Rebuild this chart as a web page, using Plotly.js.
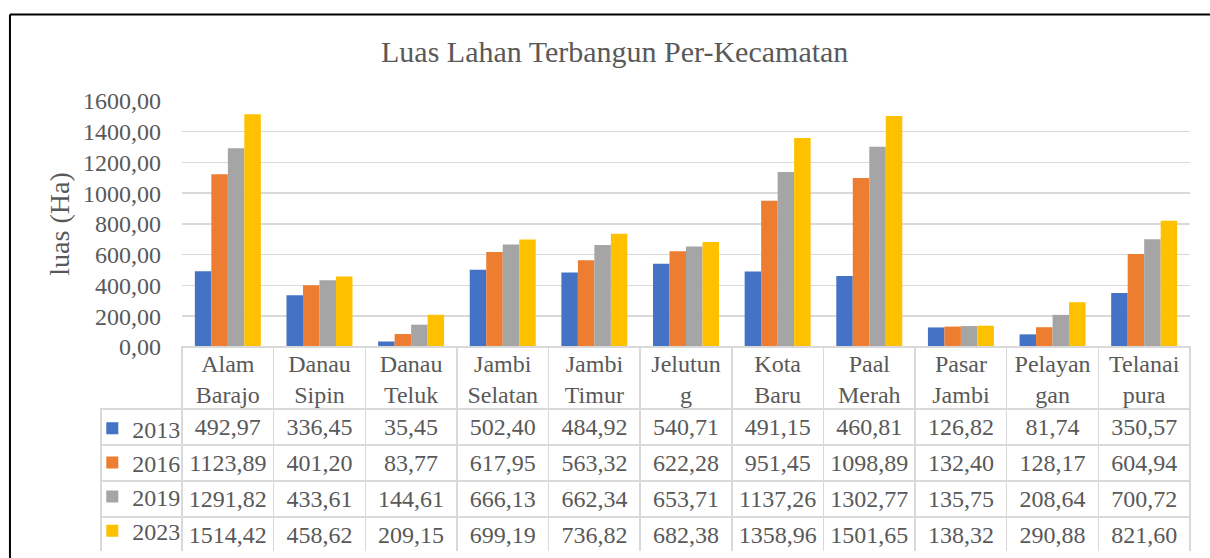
<!DOCTYPE html>
<html>
<head>
<meta charset="utf-8">
<script src="https://cdn.plot.ly/plotly-3.0.1.min.js"></script>
<style>body{margin:0;background:#fff;}#chart{width:1210px;height:558px;}</style>
</head>
<body>
<div id="chart"></div>
<script>
const categories = ["Alam Barajo","Danau Sipin","Danau Teluk","Jambi Selatan","Jambi Timur","Jelutung","Kota Baru","Paal Merah","Pasar Jambi","Pelayangan","Telanaipura"];
const headerLabels = ["Alam<br>Barajo","Danau<br>Sipin","Danau<br>Teluk","Jambi<br>Selatan","Jambi<br>Timur","Jelutun<br>g","Kota<br>Baru","Paal<br>Merah","Pasar<br>Jambi","Pelayan<br>gan","Telanai<br>pura"];
const years = ["2013","2016","2019","2023"];
const v2013 = [492.97,336.45,35.45,502.40,484.92,540.71,491.15,460.81,126.82,81.74,350.57];
const v2016 = [1123.89,401.20,83.77,617.95,563.32,622.28,951.45,1098.89,132.40,128.17,604.94];
const v2019 = [1291.82,433.61,144.61,666.13,662.34,653.71,1137.26,1302.77,135.75,208.64,700.72];
const v2023 = [1514.42,458.62,209.15,699.19,736.82,682.38,1358.96,1501.65,138.32,290.88,821.60];
const colors = ["#4472C4","#ED7D31","#A5A5A5","#FFC000"];
const series = [v2013,v2016,v2019,v2023];

const fontFam = "Liberation Serif, Times New Roman, serif";
const txtCol = "#595959";

const traces = series.map((vals,i)=>({
  type:'bar', x:categories, y:vals, name:years[i], legendgroup:'g'+i,
  marker:{color:colors[i]}, hoverinfo:'x+y', xaxis:'x', yaxis:'y'
}));

const fmt = v => v.toFixed(2).replace('.',',');
const cellCols = [years.map(()=> "")];
for (let c=0;c<categories.length;c++){
  cellCols.push(series.map(s=>fmt(s[c])));
}
const lineColH = ['rgba(0,0,0,0)'].concat(categories.map(()=> '#d9d9d9'));
const fillH = ['rgba(0,0,0,0)'].concat(categories.map(()=> 'rgba(0,0,0,0)'));
traces.push({
  type:'table',
  domain:{x:[0,1], y:[0,0.4535]},
  columnwidth:[81].concat(categories.map(()=>91.6)),
  header:{
    values:[""].concat(categories.map(()=>"")),
    align:'center',
    height:62,
    line:{color:lineColH, width:1.5},
    fill:{color:fillH},
    font:{family:fontFam, size:24, color:txtCol}
  },
  cells:{
    values:cellCols,
    align:'center',
    height:36,
    line:{color:'#d9d9d9', width:1.5},
    fill:{color:'rgba(0,0,0,0)'},
    font:{family:fontFam, size:24, color:txtCol}
  }
});

const layout = {
  width:1210, height:558,
  margin:{l:101, r:20, t:101, b:5},
  paper_bgcolor:'white', plot_bgcolor:'white',
  separators:',.',
  showlegend:true,
  legend:{x:-0.008, xanchor:'left', y:0.322, yanchor:'top', orientation:'v', traceorder:'normal',
    tracegroupgap:6, bgcolor:'rgba(0,0,0,0)', borderwidth:0, itemwidth:30,
    font:{family:fontFam, size:24, color:txtCol}},
  barmode:'group', bargap:0.28, bargroupgap:0,
  title:{text:"Luas Lahan Terbangun Per-Kecamatan", font:{family:fontFam, size:30, color:txtCol}, x:0.508, xref:'container', y:0.907, yref:'container', yanchor:'middle'},
  xaxis:{domain:[0.0744,1], tickmode:'array', tickvals:categories, ticktext:headerLabels, tickangle:0,
    tickfont:{family:fontFam, size:24, color:txtCol}, ticks:'', ticklabelstandoff:0,
    showgrid:false, zeroline:false, showline:false, fixedrange:true},
  yaxis:{domain:[0.4535,1], range:[0,1600], dtick:200, tickformat:'.2f', gridcolor:'#d9d9d9', gridwidth:1.5, zeroline:true, zerolinecolor:'#d9d9d9', zerolinewidth:1.5, showline:false,
    tickfont:{family:fontFam, size:24, color:txtCol}, ticklen:0, ticks:'', ticklabelstandoff:20,
    title:{text:"luas (Ha)", font:{family:fontFam, size:28, color:txtCol}, standoff:5}},
  font:{family:fontFam, color:txtCol},
  shapes:[
    {type:'line', xref:'paper', yref:'paper', x0:-0.0836, x1:1.05, y0:1.1925, y1:1.1925, line:{color:'black', width:2}},
    {type:'line', xref:'paper', yref:'paper', x0:-0.0836, x1:-0.0836, y0:1.1925, y1:-0.05, line:{color:'black', width:2}}
  ]
};
Plotly.newPlot('chart', traces, layout, {displayModeBar:false, staticPlot:true});
</script>
</body>
</html>
